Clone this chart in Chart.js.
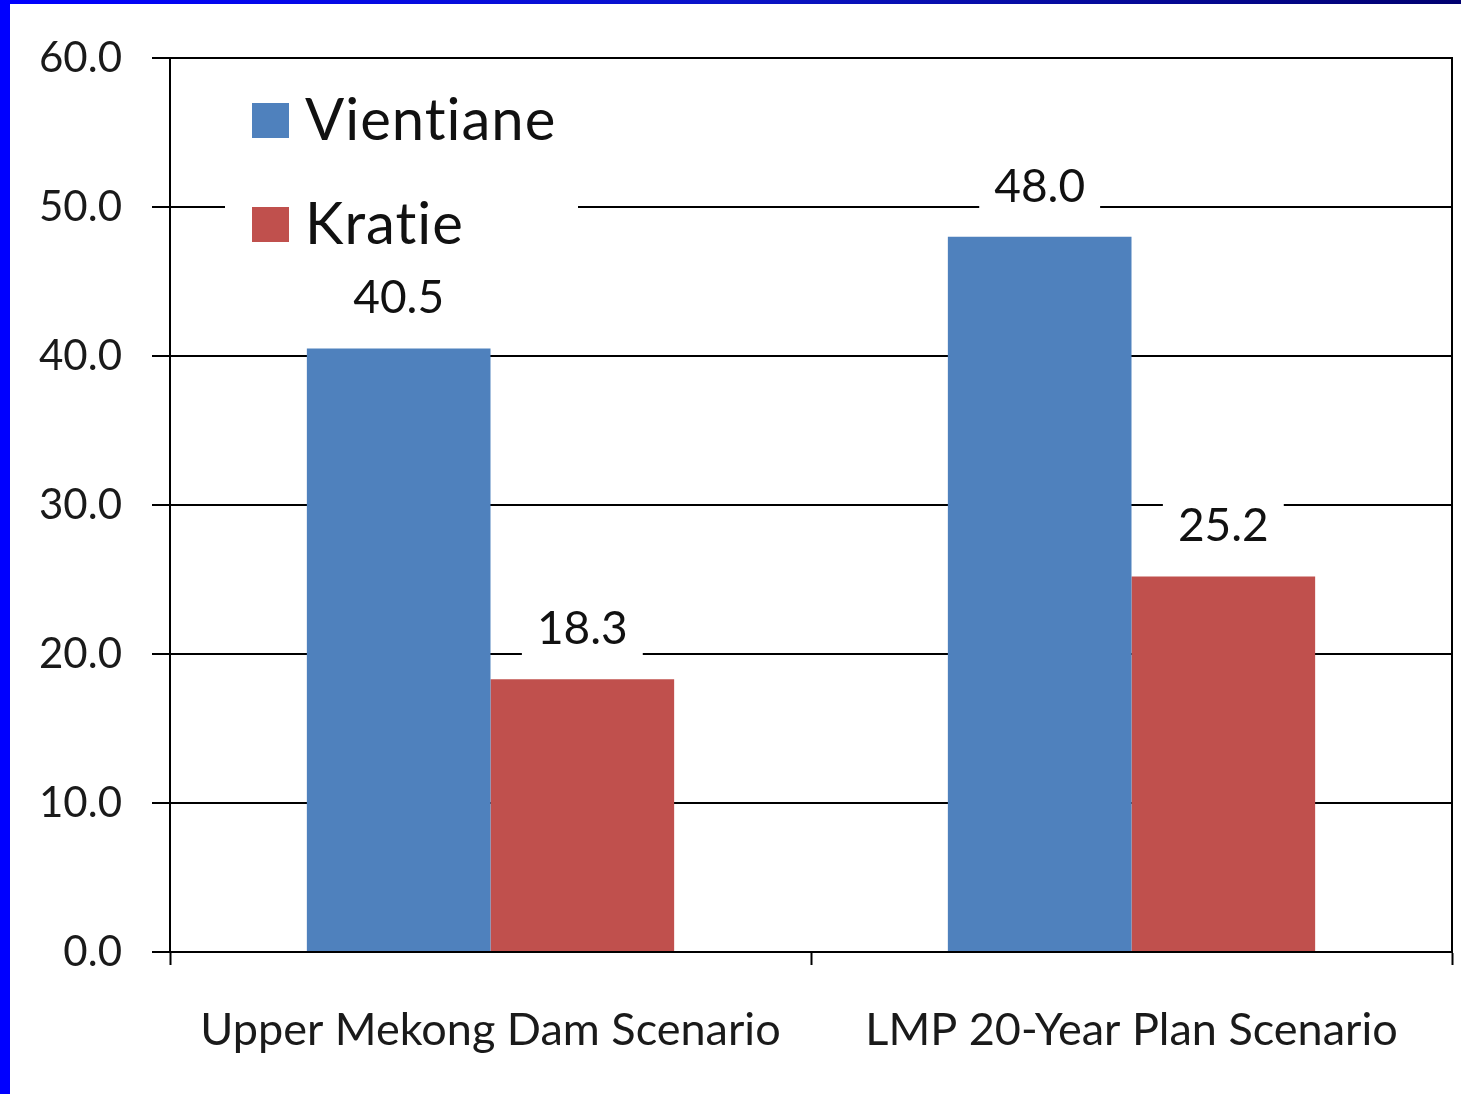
<!DOCTYPE html>
<html>
<head>
<meta charset="utf-8">
<script src="https://cdn.jsdelivr.net/npm/chart.js@4"></script>
<style>
  html, body { margin: 0; padding: 0; background: #fff; overflow: hidden; }
  #wrap { position: relative; width: 1461px; height: 1094px; }
  #leftBand { position: absolute; left: 0; top: 0; width: 10px; height: 1094px; background: #0000ff; }
  #topBand { position: absolute; left: 0; top: 0; width: 1461px; height: 4px; background: linear-gradient(to right, #0000ff, #0a14c8 50%, #000070); }
</style>
</head>
<body>
<div id="wrap">
  <canvas id="myChart" width="1461" height="1094"></canvas>
  <div id="leftBand"></div>
  <div id="topBand"></div>
</div>
<script>
const categories = ['Upper Mekong Dam Scenario', 'LMP 20-Year Plan Scenario'];
const vientiane = [40.5, 48.0];
const kratie = [18.3, 25.2];
const yTicks = [0, 10, 20, 30, 40, 50, 60];

const FONT = 'Lato, "Open Sans", sans-serif';

// value labels over each bar, with a white box that hides the grid behind
const barLabels = {
  id: 'barLabels',
  afterDatasetsDraw(chart) {
    const ctx = chart.ctx;
    ctx.save();
    ctx.font = '46px ' + FONT;
    ctx.textAlign = 'center';
    ctx.textBaseline = 'middle';
    chart.data.datasets.forEach((ds, i) => {
      chart.getDatasetMeta(i).data.forEach((bar, j) => {
        const txt = ds.data[j].toFixed(1);
        const cy = bar.y - 52;
        const w = ctx.measureText(txt).width + 30;
        ctx.fillStyle = '#fff';
        ctx.fillRect(bar.x - w / 2, cy - 30, w, 62);
        ctx.fillStyle = '#111';
        ctx.fillText(txt, bar.x, cy + 2);
      });
    });
    ctx.restore();
  }
};

// legend sitting inside the plot, top left
const innerLegend = {
  id: 'innerLegend',
  afterDraw(chart) {
    const ctx = chart.ctx;
    const a = chart.chartArea;
    const x0 = a.left + 55, y0 = a.top + 25;
    ctx.save();
    ctx.fillStyle = '#fff';
    ctx.fillRect(x0, y0, 353, 180);
    ctx.font = '58px ' + FONT;
    ctx.letterSpacing = '1px'; // keeps "ti" from turning into a ligature
    ctx.textBaseline = 'middle';
    chart.data.datasets.forEach((ds, i) => {
      const cy = a.top + 63 + i * 104;
      ctx.fillStyle = ds.backgroundColor;
      ctx.fillRect(a.left + 82, cy - 18, 37, 35);
      ctx.fillStyle = '#111';
      ctx.fillText(ds.label, a.left + 135, cy);
    });
    ctx.restore();
  }
};

new Chart(
  document.getElementById('myChart'),
  {
    type: 'bar',
    data: {
      labels: categories,
      datasets: [
        {
          label: 'Vientiane',
          data: vientiane,
          backgroundColor: '#4f81bd',
          barPercentage: 1,
          categoryPercentage: 0.573
        },
        {
          label: 'Kratie',
          data: kratie,
          backgroundColor: '#c0504d',
          barPercentage: 1,
          categoryPercentage: 0.573
        }
      ]
    },
    options: {
      responsive: false,
      animation: false,
      layout: { padding: { top: 58, right: 9, left: 0, bottom: 0 } },
      plugins: {
        legend: { display: false },
        tooltip: { enabled: false }
      },
      scales: {
        x: {
          afterFit: s => { s.height = 142; },
          grid: {
            drawOnChartArea: false,
            tickLength: 13,
            tickColor: '#000',
            tickWidth: 2
          },
          border: { color: '#000', width: 2 },
          ticks: {
            color: '#1a1a1a',
            padding: 38,
            font: { family: FONT, size: 45 }
          }
        },
        y: {
          min: 0,
          max: 60,
          afterFit: s => { s.width = 170; },
          afterBuildTicks: s => { s.ticks = yTicks.map(v => ({ value: v })); },
          grid: {
            color: '#000',
            lineWidth: 2,
            tickLength: 18,
            tickColor: '#000'
          },
          border: { color: '#000', width: 2 },
          ticks: {
            color: '#1a1a1a',
            padding: 30,
            font: { family: FONT, size: 42 },
            callback: value => value.toFixed(1)
          }
        },
        y2: {
          position: 'right',
          afterFit: s => { s.width = 0; },
          grid: { drawOnChartArea: false, drawTicks: false },
          border: { color: '#000', width: 2 },
          ticks: { display: false }
        }
      }
    },
    plugins: [barLabels, innerLegend]
  }
);
</script>
</body>
</html>
